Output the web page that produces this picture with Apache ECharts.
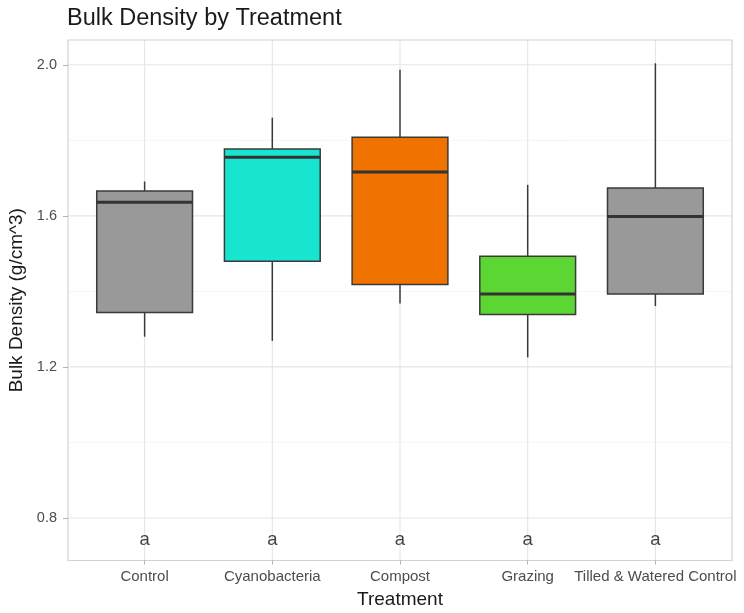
<!DOCTYPE html>
<html>
<head>
<meta charset="utf-8">
<script src="https://cdn.jsdelivr.net/npm/echarts@6/dist/echarts.min.js"></script>
<style>html,body{margin:0;padding:0;background:#fff;}#c{width:744px;height:613px;}</style>
</head>
<body>
<div id="c"></div>
<script>
var categories = ['Control', 'Cyanobacteria', 'Compost', 'Grazing', 'Tilled & Watered Control'];
var lowerWhisker = [1.280, 1.269, 1.368, 1.225, 1.361];
var q1 = [1.344, 1.480, 1.418, 1.339, 1.393];
var medians = [1.636, 1.755, 1.716, 1.393, 1.598];
var q3 = [1.666, 1.777, 1.808, 1.493, 1.674];
var upperWhisker = [1.691, 1.860, 1.987, 1.682, 2.004];
var fillColors = ['#999999', '#17E5D0', '#F07300', '#5CD633', '#999999'];
var letters = ['a', 'a', 'a', 'a', 'a'];
var letterY = 0.75;
var yMajorTicks = [0.8, 1.2, 1.6, 2.0];
var yMinorTicks = [1.0, 1.4, 1.8];

var FONT = '"Liberation Sans", Arial, sans-serif';
var chart = echarts.init(document.getElementById('c'), null, {renderer: 'canvas'});

var positions = categories.map(function (c, i) { return i + 1; });
var boxData = categories.map(function (c, i) {
  return [i + 1, lowerWhisker[i], q1[i], medians[i], q3[i], upperWhisker[i]];
});

function renderGrid(params, api) {
  if (params.dataIndex !== 0) return null;
  var cs = params.coordSys;
  var children = [];
  yMinorTicks.forEach(function (v) {
    var p = api.coord([0.4, v]);
    children.push({type: 'line', shape: {x1: cs.x, y1: p[1], x2: cs.x + cs.width, y2: p[1]},
      style: {stroke: '#f2f2f2', lineWidth: 0.8}});
  });
  yMajorTicks.forEach(function (v) {
    var p = api.coord([0.4, v]);
    children.push({type: 'line', shape: {x1: cs.x, y1: p[1], x2: cs.x + cs.width, y2: p[1]},
      style: {stroke: '#e5e5e5', lineWidth: 1.1}});
  });
  positions.forEach(function (x) {
    var p = api.coord([x, 1]);
    children.push({type: 'line', shape: {x1: p[0], y1: cs.y, x2: p[0], y2: cs.y + cs.height},
      style: {stroke: '#e5e5e5', lineWidth: 1.1}});
  });
  children.push({type: 'rect', shape: {x: cs.x, y: cs.y, width: cs.width, height: cs.height},
    style: {fill: null, stroke: '#d2d2d2', lineWidth: 1.2}});
  return {type: 'group', children: children};
}

function renderBox(params, api) {
  var x = api.value(0);
  var lo = api.coord([x, api.value(1)]);
  var b1 = api.coord([x, api.value(2)]);
  var md = api.coord([x, api.value(3)]);
  var b3 = api.coord([x, api.value(4)]);
  var hi = api.coord([x, api.value(5)]);
  var half = api.size([0.75, 0])[0] / 2;
  var cx = lo[0];
  var stroke = '#3a3a3a';
  return {
    type: 'group',
    children: [
      {type: 'line', shape: {x1: cx, y1: hi[1], x2: cx, y2: b3[1]}, style: {stroke: stroke, lineWidth: 1.5}},
      {type: 'line', shape: {x1: cx, y1: b1[1], x2: cx, y2: lo[1]}, style: {stroke: stroke, lineWidth: 1.5}},
      {type: 'rect', shape: {x: cx - half, y: b3[1], width: half * 2, height: b1[1] - b3[1]},
        style: {fill: fillColors[params.dataIndex], stroke: stroke, lineWidth: 1.5}},
      {type: 'line', shape: {x1: cx - half, y1: md[1], x2: cx + half, y2: md[1]}, style: {stroke: '#333333', lineWidth: 3}}
    ]
  };
}

chart.setOption({
  animation: false,
  backgroundColor: '#ffffff',
  title: {
    text: 'Bulk Density by Treatment', left: 67, top: 7, padding: 0,
    textStyle: {fontFamily: FONT, fontSize: 23.5, fontWeight: 'normal', color: '#1a1a1a'}
  },
  grid: {left: 68, right: 12, top: 40, bottom: 52.5, containLabel: false, outerBoundsMode: 'none'},
  xAxis: {
    type: 'value', min: 0.4, max: 5.6,
    name: 'Treatment', nameLocation: 'middle', nameGap: 30,
    nameTextStyle: {fontFamily: FONT, fontSize: 19, color: '#1a1a1a'},
    axisLine: {show: false},
    splitLine: {show: false},
    axisTick: {show: true, customValues: positions, length: 4, lineStyle: {color: '#b3b3b3'}},
    axisLabel: {
      customValues: positions, margin: 9,
      fontFamily: FONT, fontSize: 15, color: '#4d4d4d',
      formatter: function (v) { var i = Math.round(v) - 1; return categories[i] || ''; }
    }
  },
  yAxis: {
    type: 'value', min: 0.6873, max: 2.0657,
    name: 'Bulk Density (g/cm^3)', nameLocation: 'middle', nameGap: 35.5,
    nameTextStyle: {fontFamily: FONT, fontSize: 19, color: '#1a1a1a'},
    axisLine: {show: false},
    splitLine: {show: false},
    axisTick: {show: true, customValues: yMajorTicks, length: 5, lineStyle: {color: '#b3b3b3'}},
    axisLabel: {
      customValues: yMajorTicks, margin: 11,
      fontFamily: FONT, fontSize: 14.5, color: '#4d4d4d',
      formatter: function (v) { return v.toFixed(1); }
    }
  },
  series: [
    {type: 'custom', renderItem: renderGrid, data: [[1, 1]], silent: true, z: 0, clip: false},
    {type: 'custom', renderItem: renderBox, data: boxData, encode: {x: 0, y: [1, 2, 3, 4, 5]}, z: 2},
    {
      type: 'scatter', symbolSize: 0, z: 3,
      data: letters.map(function (t, i) { return [i + 1, letterY, t]; }),
      label: {
        show: true, position: 'inside', offset: [0, 3], formatter: function (p) { return p.data[2]; },
        fontFamily: FONT, fontSize: 18.5, color: '#111111'
      }
    }
  ]
});
</script>
</body>
</html>
